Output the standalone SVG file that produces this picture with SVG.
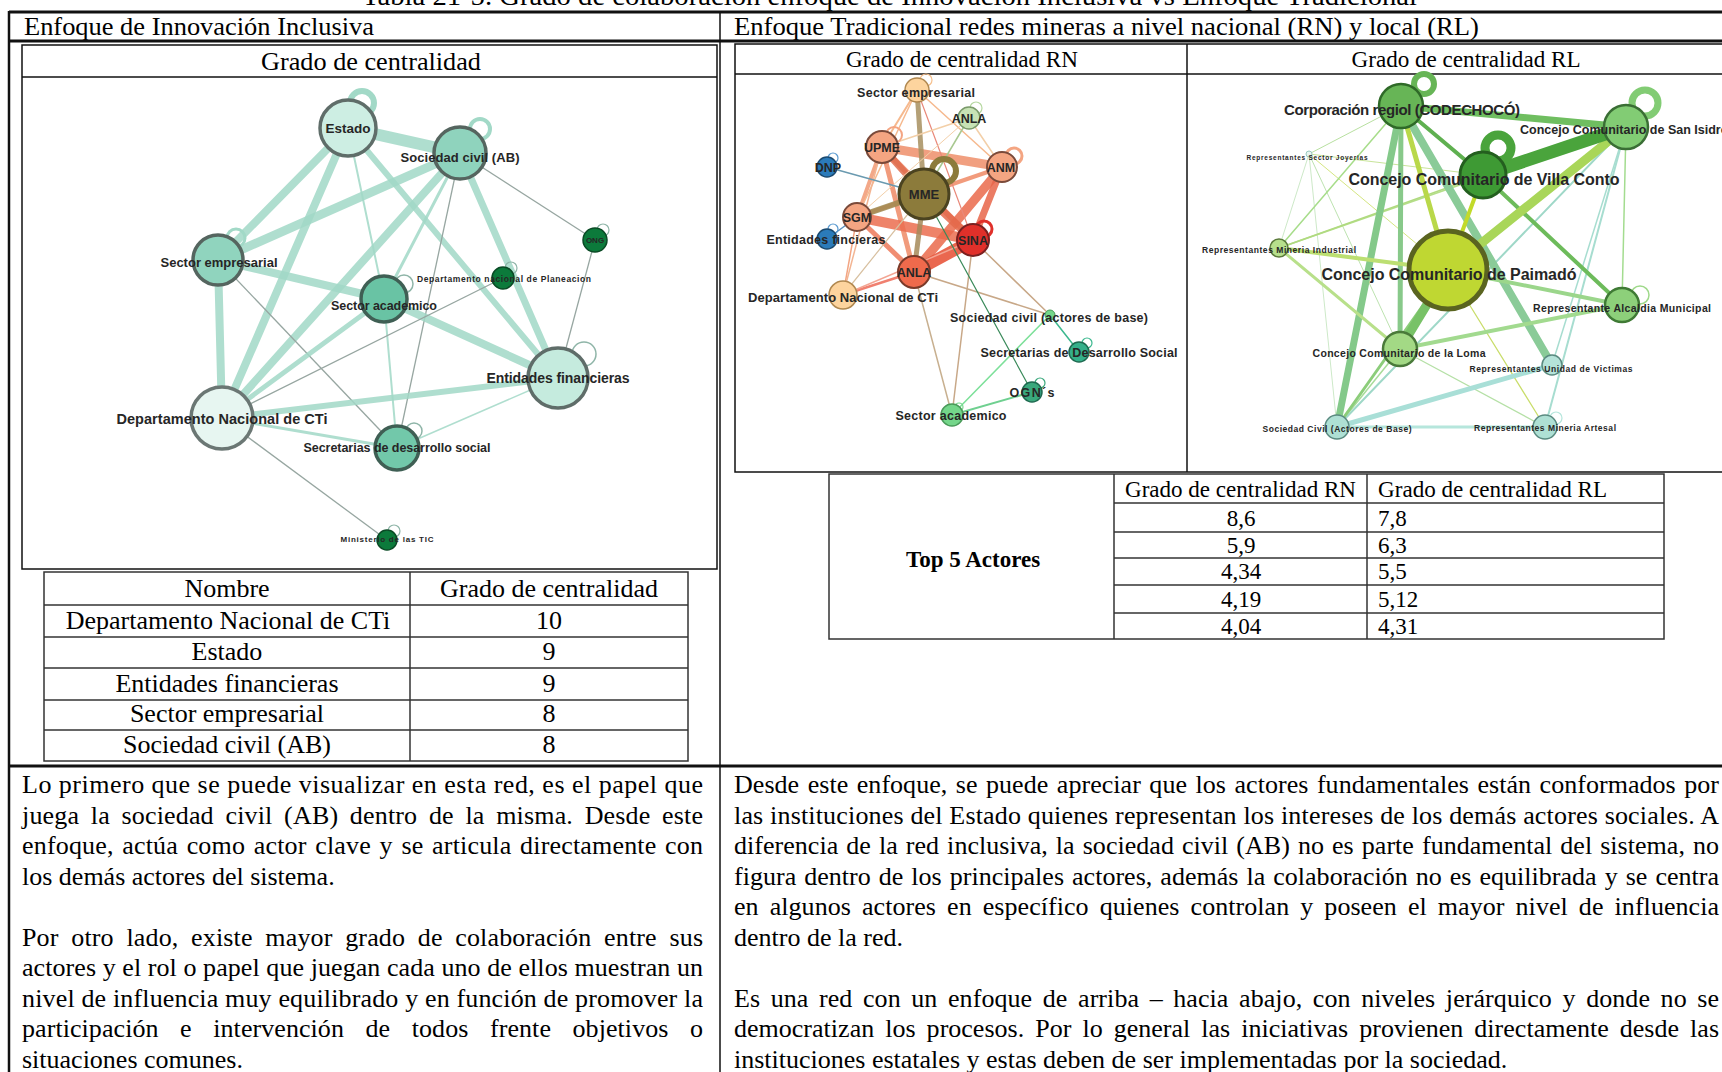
<svg xmlns="http://www.w3.org/2000/svg" width="1722" height="1072" viewBox="0 0 1722 1072">
<style>
.t{font-family:"Liberation Serif","Times New Roman",serif;fill:#000}
.tb{font-family:"Liberation Serif","Times New Roman",serif;fill:#000;font-weight:bold}
.lb{font-family:"Liberation Sans",Arial,sans-serif;font-weight:bold;fill:#262626;text-anchor:middle}
.ln{stroke:#111;fill:none}
.tl{stroke:#333;fill:none;stroke-width:1.5}
.m{stroke:#a2d9c7;stroke-linecap:round;opacity:.85}
.g{stroke:#97a6a1;stroke-width:1.3}
.lp{fill:none}
</style>
<rect width="1722" height="1072" fill="#fff"/>

<!-- title (cut at top) -->
<text class="t" x="362" y="5" font-size="28" textLength="1055" lengthAdjust="spacingAndGlyphs">Tabla 21-5. Grado de colaboración enfoque de Innovación Inclusiva vs Enfoque Tradicional</text>

<!-- header row -->
<g id="headers">
<text class="t" x="24" y="35" font-size="26" textLength="350" lengthAdjust="spacingAndGlyphs">Enfoque de Innovación Inclusiva</text>
<text class="t" x="734" y="35" font-size="26" textLength="745" lengthAdjust="spacingAndGlyphs">Enfoque Tradicional redes mineras a nivel nacional (RN) y local (RL)</text>
</g>

<!-- ================= LEFT PANEL: inclusive network ================= -->
<g id="panel-inclusiva">
<rect x="22" y="45" width="695" height="524" fill="#fff" class="ln" stroke-width="1.5"/>
<line x1="22" y1="77" x2="717" y2="77" class="ln" stroke-width="1.5"/>
<text class="t" x="371" y="70" font-size="26" text-anchor="middle" textLength="220" lengthAdjust="spacingAndGlyphs">Grado de centralidad</text>
</g>

<g id="edges-inclusiva">
<line class="m" x1="348" y1="128" x2="460" y2="153" stroke-width="12"/>
<line class="m" x1="348" y1="128" x2="218" y2="260" stroke-width="8"/>
<line class="m" x1="348" y1="128" x2="222" y2="418" stroke-width="8"/>
<line class="m" x1="348" y1="128" x2="558" y2="378" stroke-width="6"/>
<line class="m" x1="348" y1="128" x2="384" y2="299" stroke-width="2"/>
<line class="m" x1="460" y1="153" x2="218" y2="260" stroke-width="9"/>
<line class="m" x1="460" y1="153" x2="222" y2="418" stroke-width="8"/>
<line class="m" x1="460" y1="153" x2="384" y2="299" stroke-width="3"/>
<line class="m" x1="460" y1="153" x2="558" y2="378" stroke-width="7"/>
<line class="g" x1="460" y1="153" x2="397" y2="448"/>
<line class="g" x1="460" y1="153" x2="595" y2="240"/>
<line class="m" x1="218" y1="260" x2="384" y2="299" stroke-width="8"/>
<line class="m" x1="218" y1="260" x2="222" y2="418" stroke-width="8"/>
<line class="g" x1="218" y1="260" x2="397" y2="448"/>
<line class="m" x1="384" y1="299" x2="558" y2="378" stroke-width="8"/>
<line class="m" x1="384" y1="299" x2="222" y2="418" stroke-width="5"/>
<line class="m" x1="384" y1="299" x2="397" y2="448" stroke-width="2"/>
<line class="m" x1="558" y1="378" x2="222" y2="418" stroke-width="6" opacity=".55"/>
<line class="m" x1="558" y1="378" x2="397" y2="448" stroke-width="1.5"/>
<line class="g" x1="558" y1="378" x2="595" y2="240"/>
<line class="g" x1="222" y1="418" x2="503" y2="278"/>
<line class="m" x1="222" y1="418" x2="397" y2="448" stroke-width="3" opacity=".55"/>
<line class="g" x1="222" y1="418" x2="387" y2="540"/>
</g>

<g id="node-estado">
<circle class="lp" cx="362" cy="103" r="12" stroke="#a2d9c7" stroke-width="6"/>
<circle cx="348" cy="128" r="28" fill="#cdeee3" stroke="#5f6d69" stroke-width="3.5"/>
<text class="lb" x="348" y="133" font-size="13.5">Estado</text>
</g>
<g id="node-sociedad-civil">
<circle class="lp" cx="480" cy="129" r="10" stroke="#a2d9c7" stroke-width="4"/>
<circle cx="460" cy="153" r="26" fill="#8fd3bd" stroke="#55655f" stroke-width="3.5"/>
<text class="lb" x="460" y="162" font-size="13" textLength="119">Sociedad civil (AB)</text>
</g>
<g id="node-sector-empresarial">
<circle class="lp" cx="236" cy="238" r="9" stroke="#a2d9c7" stroke-width="3"/>
<circle cx="218" cy="260" r="25" fill="#90d4be" stroke="#55655f" stroke-width="3.5"/>
<text class="lb" x="219" y="267" font-size="13" textLength="117">Sector empresarial</text>
</g>
<g id="node-sector-academico">
<circle class="lp" cx="404" cy="284" r="9" stroke="#8fb5a8" stroke-width="1.5"/>
<circle cx="384" cy="299" r="23" fill="#69c3a4" stroke="#3f5f54" stroke-width="3.5"/>
<text class="lb" x="384" y="310" font-size="12.5" textLength="106">Sector academico</text>
</g>
<g id="node-dnp">
<circle class="lp" cx="511" cy="268" r="6" stroke="#8fb5a8" stroke-width="1.2"/>
<circle cx="503" cy="278" r="11" fill="#0c7a3b" stroke="#0a4a25" stroke-width="1.5"/>
<text class="lb" x="504" y="282" font-size="8.5" font-weight="normal" textLength="174">Departamento nacional de Planeacion</text>
</g>
<g id="node-ong">
<circle class="lp" cx="603" cy="230" r="6" stroke="#8fb5a8" stroke-width="1.2"/>
<circle cx="595" cy="240" r="12" fill="#0c7a3b" stroke="#0a4a25" stroke-width="1.5"/>
<text class="lb" x="595" y="243" font-size="8">ONG</text>
</g>
<g id="node-entidades-financieras">
<circle class="lp" cx="584" cy="354" r="12" stroke="#8fb5a8" stroke-width="1.5"/>
<circle cx="558" cy="378" r="30" fill="#c5ebde" stroke="#5f6d69" stroke-width="3.5"/>
<text class="lb" x="558" y="383" font-size="14" textLength="143">Entidades financieras</text>
</g>
<g id="node-dncti">
<circle cx="222" cy="418" r="31" fill="#e7f6f1" stroke="#6b7774" stroke-width="3.5"/>
<text class="lb" x="222" y="424" font-size="14.5" textLength="211">Departamento Nacional de CTi</text>
</g>
<g id="node-secretarias">
<circle class="lp" cx="414" cy="431" r="8" stroke="#8fb5a8" stroke-width="1.5"/>
<circle cx="397" cy="448" r="22" fill="#72c8aa" stroke="#3f5f54" stroke-width="3.5"/>
<text class="lb" x="397" y="452" font-size="12.5" textLength="187">Secretarias de desarrollo social</text>
</g>
<g id="node-ministerio-tic">
<circle class="lp" cx="394" cy="531" r="6" stroke="#8fb5a8" stroke-width="1.2"/>
<circle cx="387" cy="540" r="10" fill="#0c7a3b" stroke="#0a4a25" stroke-width="1.5"/>
<text class="lb" x="387" y="542" font-size="8" textLength="93">Ministerio de las TIC</text>
</g>

<!-- left table -->
<g id="table-inclusiva">
<rect x="44" y="572" width="644" height="189" class="tl" fill="none"/>
<line class="tl" x1="410" y1="572" x2="410" y2="761"/>
<line class="tl" x1="44" y1="605" x2="688" y2="605"/>
<line class="tl" x1="44" y1="637" x2="688" y2="637"/>
<line class="tl" x1="44" y1="668" x2="688" y2="668"/>
<line class="tl" x1="44" y1="700" x2="688" y2="700"/>
<line class="tl" x1="44" y1="730" x2="688" y2="730"/>
<g class="t" font-size="26" text-anchor="middle">
<text x="227" y="597">Nombre</text>
<text x="549" y="597">Grado de centralidad</text>
<text x="228" y="629">Departamento Nacional de CTi</text>
<text x="549" y="629">10</text>
<text x="227" y="660">Estado</text>
<text x="549" y="660">9</text>
<text x="227" y="692">Entidades financieras</text>
<text x="549" y="692">9</text>
<text x="227" y="722">Sector empresarial</text>
<text x="549" y="722">8</text>
<text x="227" y="753">Sociedad civil (AB)</text>
<text x="549" y="753">8</text>
</g>
</g>

<!-- ================= RIGHT PANELS ================= -->
<g id="panel-rn-rl">
<rect x="735" y="44" width="1000" height="428" fill="#fff" class="ln" stroke-width="1.5"/>
<line x1="1187" y1="44" x2="1187" y2="472" class="ln" stroke-width="1.5"/>
<line x1="735" y1="74" x2="1722" y2="74" class="ln" stroke-width="1.5"/>
<text class="t" x="962" y="67" font-size="23.5" text-anchor="middle" textLength="232" lengthAdjust="spacingAndGlyphs">Grado de centralidad RN</text>
<text class="t" x="1466" y="67" font-size="23.5" text-anchor="middle" textLength="229" lengthAdjust="spacingAndGlyphs">Grado de centralidad RL</text>
</g>

<g id="edges-rn" stroke-linecap="round">
<line x1="882" y1="147" x2="1002" y2="167" stroke="#ef8f6a" stroke-width="9" opacity=".85"/>
<line x1="882" y1="147" x2="973" y2="240" stroke="#ef8060" stroke-width="6" opacity=".85"/>
<line x1="882" y1="147" x2="914" y2="272" stroke="#ef8a66" stroke-width="5" opacity=".85"/>
<line x1="882" y1="147" x2="857" y2="217" stroke="#f19a74" stroke-width="4" opacity=".85"/>
<line x1="882" y1="147" x2="924" y2="194" stroke="#e06e4f" stroke-width="7" opacity=".85"/>
<line x1="857" y1="217" x2="973" y2="240" stroke="#ec6e50" stroke-width="10" opacity=".85"/>
<line x1="857" y1="217" x2="914" y2="272" stroke="#ee7a5a" stroke-width="5" opacity=".85"/>
<line x1="857" y1="217" x2="1002" y2="167" stroke="#f08a66" stroke-width="4" opacity=".85"/>
<line x1="1002" y1="167" x2="914" y2="272" stroke="#ea6a4c" stroke-width="9" opacity=".85"/>
<line x1="1002" y1="167" x2="973" y2="240" stroke="#e8664a" stroke-width="7" opacity=".85"/>
<line x1="973" y1="240" x2="914" y2="272" stroke="#e8573d" stroke-width="12" opacity=".9"/>
<line x1="924" y1="194" x2="973" y2="240" stroke="#e46a4c" stroke-width="8" opacity=".85"/>
<line x1="924" y1="194" x2="914" y2="272" stroke="#a68a5a" stroke-width="5" opacity=".85"/>
<line x1="924" y1="194" x2="917" y2="90" stroke="#a89060" stroke-width="5" opacity=".85"/>
<line x1="924" y1="194" x2="857" y2="217" stroke="#a08a50" stroke-width="6" opacity=".85"/>
<line x1="917" y1="90" x2="882" y2="147" stroke="#f6b98e" stroke-width="2"/>
<line x1="917" y1="90" x2="1002" y2="167" stroke="#f6b98e" stroke-width="1.5"/>
<line x1="917" y1="90" x2="857" y2="217" stroke="#f6b98e" stroke-width="1.5"/>
<line x1="917" y1="90" x2="973" y2="240" stroke="#e9897a" stroke-width="1.2"/>
<line x1="969" y1="118" x2="882" y2="147" stroke="#f3cfa8" stroke-width="1.5"/>
<line x1="969" y1="118" x2="1002" y2="167" stroke="#f3cfa8" stroke-width="1.5"/>
<line x1="969" y1="118" x2="924" y2="194" stroke="#a8c890" stroke-width="1.5"/>
<line x1="969" y1="118" x2="857" y2="217" stroke="#f3cfa8" stroke-width="1"/>
<line x1="843" y1="295" x2="857" y2="217" stroke="#f3a583" stroke-width="1.5"/>
<line x1="843" y1="295" x2="882" y2="147" stroke="#f3b593" stroke-width="1.5"/>
<line x1="843" y1="295" x2="914" y2="272" stroke="#f08070" stroke-width="2.5"/>
<line x1="843" y1="295" x2="973" y2="240" stroke="#f3a593" stroke-width="1.5"/>
<line x1="843" y1="295" x2="924" y2="194" stroke="#d8c0a0" stroke-width="1.2"/>
<line x1="827" y1="167" x2="924" y2="194" stroke="#6a9ab0" stroke-width="1.5"/>
<line x1="827" y1="239" x2="857" y2="217" stroke="#5a90c0" stroke-width="1.5"/>
<line x1="973" y1="240" x2="1050" y2="315" stroke="#c8a888" stroke-width="1.5"/>
<line x1="914" y1="272" x2="1050" y2="315" stroke="#c8a888" stroke-width="1.5"/>
<line x1="914" y1="272" x2="952" y2="415" stroke="#c8b090" stroke-width="1.5"/>
<line x1="973" y1="240" x2="952" y2="415" stroke="#c8a888" stroke-width="1.5"/>
<line x1="1050" y1="315" x2="952" y2="415" stroke="#7de09a" stroke-width="1.5"/>
<line x1="1050" y1="315" x2="1079" y2="352" stroke="#3cb88f" stroke-width="1.5"/>
<line x1="1032" y1="392" x2="952" y2="415" stroke="#6fd090" stroke-width="2"/>
<line x1="924" y1="194" x2="1032" y2="392" stroke="#3a8a5a" stroke-width="1.2"/>
</g>

<g id="rn-sector-empresarial"><circle class="lp" cx="926" cy="80" r="6" stroke="#f6c08e" stroke-width="1.2"/><circle cx="917" cy="90" r="12" fill="#fdd49e" stroke="#b08850" stroke-width="1.5"/><text class="lb" x="916" y="97" font-size="12.5" textLength="118">Sector empresarial</text></g>
<g id="rn-anla-1"><circle class="lp" cx="976" cy="108" r="6" stroke="#b6d8a0" stroke-width="1.2"/><circle cx="969" cy="118" r="11" fill="#c7e3b5" stroke="#7a9a6a" stroke-width="1.5"/><text class="lb" x="969" y="123" font-size="12.5">ANLA</text></g>
<g id="rn-upme"><circle class="lp" cx="894" cy="135" r="8" stroke="#f4a582" stroke-width="2"/><circle cx="882" cy="147" r="16" fill="#f4a582" stroke="#7a4a3a" stroke-width="2"/><text class="lb" x="882" y="152" font-size="12.5">UPME</text></g>
<g id="rn-dnp"><circle class="lp" cx="833" cy="158" r="5" stroke="#5a9ad0" stroke-width="1.2"/><circle cx="827" cy="167" r="10" fill="#2b7bba" stroke="#1a4a70" stroke-width="1.5"/><text class="lb" x="828" y="172" font-size="12.5">DNP</text></g>
<g id="rn-anm"><circle class="lp" cx="1014" cy="156" r="8" stroke="#f4a582" stroke-width="3"/><circle cx="1002" cy="167" r="15" fill="#f4a582" stroke="#7a4a3a" stroke-width="2"/><text class="lb" x="1001" y="172" font-size="12.5">ANM</text></g>
<g id="rn-mme"><circle class="lp" cx="944" cy="171" r="12" stroke="#8c7b3b" stroke-width="6"/><circle cx="924" cy="194" r="25" fill="#8c7b3b" stroke="#4b4320" stroke-width="3"/><text class="lb" x="924" y="199" font-size="13">MME</text></g>
<g id="rn-sgm"><circle cx="857" cy="217" r="14" fill="#f4a582" stroke="#7a4a3a" stroke-width="2"/><text class="lb" x="857" y="222" font-size="12.5">SGM</text></g>
<g id="rn-entidades"><circle class="lp" cx="833" cy="229" r="5" stroke="#5a9ad0" stroke-width="1.2"/><circle cx="827" cy="239" r="10" fill="#2b7bba" stroke="#1a4a70" stroke-width="1.5"/><text class="lb" x="826" y="244" font-size="12.5" textLength="119">Entidades fincieras</text></g>
<g id="rn-sina"><circle class="lp" cx="984" cy="229" r="8" stroke="#e0302a" stroke-width="3"/><circle cx="973" cy="240" r="16" fill="#e0302a" stroke="#7a2020" stroke-width="2"/><text class="lb" x="973" y="245" font-size="12.5">SINA</text></g>
<g id="rn-anla-2"><circle cx="914" cy="272" r="16" fill="#ef6a4c" stroke="#7a3a2a" stroke-width="2"/><text class="lb" x="914" y="277" font-size="12.5">ANLA</text></g>
<g id="rn-dncti"><circle cx="843" cy="295" r="14" fill="#fdd49e" stroke="#b08850" stroke-width="1.5"/><text class="lb" x="843" y="302" font-size="13" textLength="190">Departamento Nacional de CTi</text></g>
<g id="rn-sociedad-civil"><circle cx="1050" cy="315" r="5" fill="#74d68a" stroke="#4a9a5a" stroke-width="1"/><text class="lb" x="1049" y="322" font-size="12.5" textLength="198">Sociedad civil (actores de base)</text></g>
<g id="rn-secretarias"><circle class="lp" cx="1087" cy="343" r="5" stroke="#3cb88f" stroke-width="1.2"/><circle cx="1079" cy="352" r="10" fill="#35b08a" stroke="#1e6a50" stroke-width="1.5"/><text class="lb" x="1079" y="357" font-size="12.5" textLength="197">Secretarias de Desarrollo Social</text></g>
<g id="rn-ogn"><circle class="lp" cx="1040" cy="383" r="5" stroke="#3aa87c" stroke-width="1.2"/><circle cx="1032" cy="392" r="10" fill="#3aa87c" stroke="#1e6a50" stroke-width="1.5"/><text class="lb" x="1032" y="397" font-size="12.5" textLength="45">OGN´s</text></g>
<g id="rn-sector-academico"><circle class="lp" cx="959" cy="407" r="4" stroke="#74d68a" stroke-width="1.2"/><circle cx="952" cy="415" r="11" fill="#74d68a" stroke="#4a9a5a" stroke-width="1.5"/><text class="lb" x="951" y="420" font-size="12.5" textLength="111">Sector academico</text></g>

<g id="edges-rl" stroke-linecap="round">
<line x1="1309" y1="154" x2="1279" y2="248" stroke="#cde9c8" stroke-width="1"/>
<line x1="1309" y1="154" x2="1400" y2="349" stroke="#bde3b0" stroke-width="1"/>
<line x1="1309" y1="154" x2="1337" y2="427" stroke="#cde9c8" stroke-width="1"/>
<line x1="1309" y1="154" x2="1483" y2="175" stroke="#c8e49a" stroke-width="1"/>
<line x1="1309" y1="154" x2="1448" y2="270" stroke="#d4e580" stroke-width="1"/>
<line x1="1401" y1="106" x2="1309" y2="154" stroke="#b8e0a0" stroke-width="1"/>
<line x1="1448" y1="270" x2="1545" y2="427" stroke="#c9dd6a" stroke-width="1.2"/>
<line x1="1400" y1="349" x2="1545" y2="427" stroke="#b5e0a6" stroke-width="1.2"/>
<line x1="1400" y1="349" x2="1337" y2="427" stroke="#a8dc9a" stroke-width="1.5"/>
<line x1="1279" y1="248" x2="1626" y2="127" stroke="#b5df8a" stroke-width="1.5"/>
<line x1="1279" y1="248" x2="1483" y2="175" stroke="#b0da80" stroke-width="1.5"/>
<line x1="1401" y1="106" x2="1279" y2="248" stroke="#a7dd8a" stroke-width="1.5"/>
<line x1="1626" y1="127" x2="1337" y2="427" stroke="#9fd8c8" stroke-width="2"/>
<line x1="1626" y1="127" x2="1545" y2="427" stroke="#a7ddd0" stroke-width="2"/>
<line x1="1626" y1="127" x2="1552" y2="365" stroke="#a7ddd0" stroke-width="1.5"/>
<line x1="1626" y1="127" x2="1622" y2="305" stroke="#a3dc8f" stroke-width="1.5"/>
<line x1="1337" y1="427" x2="1552" y2="365" stroke="#a9dfd7" stroke-width="5"/>
<line x1="1337" y1="427" x2="1545" y2="427" stroke="#b6e6dc" stroke-width="3"/>
<line x1="1401" y1="106" x2="1337" y2="427" stroke="#84c98a" stroke-width="7"/>
<line x1="1401" y1="106" x2="1400" y2="349" stroke="#88c98a" stroke-width="5"/>
<line x1="1401" y1="106" x2="1552" y2="365" stroke="#8acb98" stroke-width="8"/>
<line x1="1401" y1="106" x2="1448" y2="270" stroke="#b9d84a" stroke-width="5"/>
<line x1="1401" y1="106" x2="1483" y2="175" stroke="#5fb050" stroke-width="4"/>
<line x1="1401" y1="106" x2="1626" y2="127" stroke="#6fbe60" stroke-width="7"/>
<line x1="1279" y1="248" x2="1448" y2="270" stroke="#bcdf72" stroke-width="4"/>
<line x1="1279" y1="248" x2="1400" y2="349" stroke="#b8e08a" stroke-width="3"/>
<line x1="1448" y1="270" x2="1337" y2="427" stroke="#8ccd7a" stroke-width="3"/>
<line x1="1400" y1="349" x2="1622" y2="305" stroke="#a2da8f" stroke-width="4"/>
<line x1="1448" y1="270" x2="1622" y2="305" stroke="#9bd68b" stroke-width="4"/>
<line x1="1483" y1="175" x2="1622" y2="305" stroke="#6dbb5b" stroke-width="4"/>
<line x1="1448" y1="270" x2="1400" y2="349" stroke="#78c267" stroke-width="9"/>
<line x1="1483" y1="175" x2="1448" y2="270" stroke="#c2da2a" stroke-width="4"/>
<line x1="1448" y1="270" x2="1626" y2="127" stroke="#a9d659" stroke-width="9"/>
<line x1="1483" y1="175" x2="1626" y2="127" stroke="#4aa43c" stroke-width="13"/>
</g>

<g id="rl-corporacion"><circle class="lp" cx="1424" cy="84" r="10" stroke="#67b556" stroke-width="6"/><circle cx="1401" cy="106" r="22" fill="#67b556" stroke="#2f6a28" stroke-width="2.5"/><text class="lb" x="1402" y="115" font-size="15" textLength="236">Corporación regiol (CODECHOCÓ)</text></g>
<g id="rl-san-isidro"><circle class="lp" cx="1645" cy="103" r="13" stroke="#82cc74" stroke-width="7"/><circle cx="1626" cy="127" r="22" fill="#82cc74" stroke="#3a6e35" stroke-width="2.5"/><text class="lb" x="1520" y="133.5" font-size="12.5" style="text-anchor:start">Concejo Comunitario de San Isidro</text></g>
<g id="rl-joyerias"><circle cx="1309" cy="154" r="3" fill="#e8f4ef" stroke="#99c9c0" stroke-width="1"/><text class="lb" x="1307" y="159.5" font-size="6.5" textLength="121">Representantes Sector Joyerias</text></g>
<g id="rl-villa-conto"><circle class="lp" cx="1498" cy="148" r="13" stroke="#4aa43c" stroke-width="9"/><circle cx="1483" cy="175" r="23" fill="#3e9a34" stroke="#245f1f" stroke-width="3"/><text class="lb" x="1484" y="184.5" font-size="16" textLength="271">Concejo Comunitario de Villa Conto</text></g>
<g id="rl-mineria-industrial"><circle cx="1279" cy="248" r="9" fill="#b6df8c" stroke="#5b7a3b" stroke-width="1.5"/><text class="lb" x="1279" y="253" font-size="8.5" textLength="154">Representantes Mineria Industrial</text></g>
<g id="rl-paimado"><circle cx="1448" cy="270" r="39" fill="#bfd732" stroke="#5a6420" stroke-width="5"/><text class="lb" x="1449" y="280" font-size="16" textLength="255">Concejo Comunitario de Paimadó</text></g>
<g id="rl-alcaldia"><circle class="lp" cx="1640" cy="295" r="9" stroke="#9fd98a" stroke-width="1.5"/><circle cx="1622" cy="305" r="17" fill="#8dd07a" stroke="#3f7a35" stroke-width="2.5"/><text class="lb" x="1622" y="312" font-size="10.5" textLength="178">Representante Alcaldia Municipal</text></g>
<g id="rl-la-loma"><circle cx="1400" cy="349" r="17" fill="#a3d985" stroke="#4a7a3a" stroke-width="2.5"/><text class="lb" x="1399" y="357" font-size="10.5" textLength="173">Concejo Comunitario de la Loma</text></g>
<g id="rl-victimas"><circle cx="1552" cy="365" r="10" fill="#b5e3d9" stroke="#5a8a80" stroke-width="1.5"/><text class="lb" x="1551" y="371.5" font-size="8.5" textLength="163">Representantes Unidad de Victimas</text></g>
<g id="rl-sociedad-civil"><circle cx="1337" cy="427" r="12" fill="#aee0d4" stroke="#5a8a80" stroke-width="1.5"/><text class="lb" x="1337" y="431.5" font-size="8.5" textLength="149">Sociedad Civil (Actores de Base)</text></g>
<g id="rl-mineria-artesal"><circle class="lp" cx="1556" cy="418" r="6" stroke="#b6e6dc" stroke-width="1.2"/><circle cx="1545" cy="427" r="12" fill="#aee0d4" stroke="#5a8a80" stroke-width="1.5"/><text class="lb" x="1545" y="430.5" font-size="8.5" textLength="142">Representantes Mineria Artesal</text></g>

<!-- right table -->
<g id="table-tradicional">
<rect x="829" y="474" width="835" height="165" class="tl" fill="none"/>
<line class="tl" x1="1114" y1="474" x2="1114" y2="639"/>
<line class="tl" x1="1367" y1="474" x2="1367" y2="639"/>
<line class="tl" x1="1114" y1="503" x2="1664" y2="503"/>
<line class="tl" x1="1114" y1="532" x2="1664" y2="532"/>
<line class="tl" x1="1114" y1="558" x2="1664" y2="558"/>
<line class="tl" x1="1114" y1="585" x2="1664" y2="585"/>
<line class="tl" x1="1114" y1="613" x2="1664" y2="613"/>
<text class="tb" x="973" y="567" font-size="23" text-anchor="middle">Top 5 Actores</text>
<g class="t" font-size="23">
<text x="1125" y="497" textLength="231" lengthAdjust="spacingAndGlyphs">Grado de centralidad RN</text>
<text x="1378" y="497" textLength="229" lengthAdjust="spacingAndGlyphs">Grado de centralidad RL</text>
<g text-anchor="middle">
<text x="1241" y="526">8,6</text>
<text x="1241" y="553">5,9</text>
<text x="1241" y="579">4,34</text>
<text x="1241" y="607">4,19</text>
<text x="1241" y="634">4,04</text>
</g>
<text x="1378" y="526">7,8</text>
<text x="1378" y="553">6,3</text>
<text x="1378" y="579">5,5</text>
<text x="1378" y="607">5,12</text>
<text x="1378" y="634">4,31</text>
</g>
</g>

<!-- outer table grid -->
<g id="outer-table">
<line class="ln" x1="9" y1="12" x2="1722" y2="12" stroke-width="3"/>
<line class="ln" x1="9" y1="41" x2="1722" y2="41" stroke-width="3"/>
<line class="ln" x1="9" y1="766" x2="1722" y2="766" stroke-width="3"/>
<line class="ln" x1="9" y1="11" x2="9" y2="1072" stroke-width="2.5"/>
<line class="ln" x1="720" y1="12" x2="720" y2="1072" stroke-width="1.5"/>
</g>

<!-- paragraphs -->
<g id="text-inclusiva" class="t" font-size="26">
<text x="22" y="793" textLength="681" lengthAdjust="spacing">Lo primero que se puede visualizar en esta red, es el papel que</text>
<text x="22" y="823.5" word-spacing="5" textLength="681" lengthAdjust="spacing">juega la sociedad civil (AB) dentro de la misma. Desde este</text>
<text x="22" y="854" word-spacing="2" textLength="681" lengthAdjust="spacing">enfoque, actúa como actor clave y se articula directamente con</text>
<text x="22" y="884.5">los demás actores del sistema.</text>
<text x="22" y="945.5" word-spacing="6" textLength="681" lengthAdjust="spacing">Por otro lado, existe mayor grado de colaboración entre sus</text>
<text x="22" y="976" textLength="681" lengthAdjust="spacing">actores y el rol o papel que juegan cada uno de ellos muestran un</text>
<text x="22" y="1006.5" textLength="681" lengthAdjust="spacing">nivel de influencia muy equilibrado y en función de promover la</text>
<text x="22" y="1037" word-spacing="15" textLength="681" lengthAdjust="spacing">participación e intervención de todos frente objetivos o</text>
<text x="22" y="1067.5">situaciones comunes.</text>
</g>
<g id="text-tradicional" class="t" font-size="26">
<text x="734" y="793" word-spacing="2" textLength="985" lengthAdjust="spacing">Desde este enfoque, se puede apreciar que los actores fundamentales están conformados por</text>
<text x="734" y="823.5" textLength="985" lengthAdjust="spacing">las instituciones del Estado quienes representan los intereses de los demás actores sociales. A</text>
<text x="734" y="854" word-spacing="1.5" textLength="985" lengthAdjust="spacing">diferencia de la red inclusiva, la sociedad civil (AB) no es parte fundamental del sistema, no</text>
<text x="734" y="884.5" word-spacing="1.5" textLength="985" lengthAdjust="spacing">figura dentro de los principales actores, además la colaboración no es equilibrada y se centra</text>
<text x="734" y="915" word-spacing="4.5" textLength="985" lengthAdjust="spacing">en algunos actores en específico quienes controlan y poseen el mayor nivel de influencia</text>
<text x="734" y="945.5">dentro de la red.</text>
<text x="734" y="1006.5" word-spacing="4" textLength="985" lengthAdjust="spacing">Es una red con un enfoque de arriba – hacia abajo, con niveles jerárquico y donde no se</text>
<text x="734" y="1037" word-spacing="4.5" textLength="985" lengthAdjust="spacing">democratizan los procesos. Por lo general las iniciativas provienen directamente desde las</text>
<text x="734" y="1067.5">instituciones estatales y estas deben de ser implementadas por la sociedad.</text>
</g>
</svg>
